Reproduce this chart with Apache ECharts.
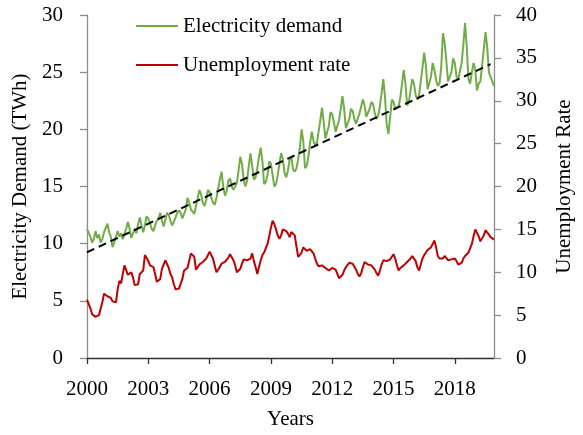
<!DOCTYPE html>
<html>
<head>
<meta charset="utf-8">
<script src="https://cdn.jsdelivr.net/npm/echarts@6/dist/echarts.min.js"></script>
<style>
  html, body { margin: 0; padding: 0; background: #ffffff; }
  #chart { width: 583px; height: 435px; }
</style>
</head>
<body>
<div id="chart"></div>
<script>
// Monthly series, January 2000 to December 2019
const startYear = 2000;

// Electricity demand (TWh), one row per year
const demand = [
  11.3, 11.2, 10.6, 10.1, 10.4, 11.1, 10.5, 10.8, 10.1, 10.4, 11.0, 11.1,
  11.75, 11.0, 10.6, 9.7, 10.1, 10.6, 11.1, 10.6, 10.9, 10.4, 10.5, 11.3,
  11.9, 11.3, 10.5, 10.6, 11.3, 10.9, 11.7, 12.3, 11.6, 11.0, 11.6, 12.4,
  12.2, 11.8, 11.3, 11.1, 11.6, 12.0, 12.2, 12.7, 12.0, 11.5, 12.1, 12.7,
  12.5, 12.0, 11.6, 11.9, 12.3, 12.7, 12.9, 12.7, 12.2, 12.3, 13.0, 14.0,
  13.6, 13.0, 12.8, 12.6, 13.3, 14.0, 14.7, 14.3, 13.6, 13.3, 13.8, 14.7,
  14.5, 14.0, 13.6, 13.4, 14.0, 14.8, 15.6, 16.3, 15.0, 14.2, 14.6, 15.5,
  15.7, 15.0, 14.7, 14.6, 15.3, 16.4, 17.6, 17.0, 15.6, 15.0, 15.5, 16.8,
  17.9, 16.8, 15.6, 15.8, 16.6, 17.6, 18.4, 17.2, 15.2, 15.4, 16.0, 17.2,
  17.0, 16.0, 15.0, 15.2, 16.0, 17.0, 17.9, 17.4, 16.2, 15.8, 16.4, 17.4,
  17.6, 16.5, 16.3, 16.6, 17.4, 18.4, 20.0, 19.0, 16.6, 16.8, 17.6, 18.8,
  19.8, 19.0, 18.6, 18.8, 19.8, 20.8, 21.9, 20.6, 19.2, 19.3, 20.3, 21.5,
  21.3, 20.6, 19.8, 19.9, 20.8, 21.8, 22.9, 21.8, 20.1, 20.2, 20.9, 21.8,
  21.6, 20.9, 20.5, 20.6, 21.4, 22.0, 22.6, 22.1, 21.1, 21.2, 21.8, 22.4,
  22.2, 21.4, 20.9, 21.2, 22.0, 23.2, 24.4, 22.8, 20.4, 19.6, 21.0, 22.6,
  22.4, 21.8, 21.8, 22.0, 22.8, 24.0, 25.2, 24.0, 22.1, 22.4, 23.4, 24.4,
  24.0, 23.0, 22.6, 23.0, 24.2, 25.4, 26.7, 25.6, 23.5, 23.6, 24.6, 25.8,
  25.2, 24.3, 23.8, 24.0, 25.4, 28.4, 27.6, 26.0, 24.2, 24.2, 25.0, 26.2,
  25.8, 24.6, 24.4, 24.5, 25.8, 27.4, 29.3, 27.2, 24.4, 24.0, 25.0, 25.8,
  25.2, 23.4, 24.0, 24.2, 25.6, 27.0, 28.5, 27.2, 25.0, 24.6, 24.2, 23.8
];

// Unemployment rate (%), one row per year
const unemployment = [
  6.8, 6.6, 5.8, 5.1, 4.9, 4.8, 4.9, 5.0, 5.2, 6.5, 7.5, 7.3,
  7.2, 7.4, 7.0, 6.6, 6.5, 6.5, 8.0, 9.0, 8.7, 9.8, 10.8, 10.7,
  9.7, 9.8, 10.0, 9.4, 8.5, 8.6, 8.6, 9.8, 10.0, 10.2, 12.0, 11.8,
  11.3, 10.8, 10.6, 10.6, 9.8, 8.9, 9.0, 9.2, 10.4, 10.9, 11.4, 11.6,
  10.5, 9.8, 9.4, 8.6, 8.0, 8.0, 8.1, 8.3, 9.2, 10.2, 10.1, 10.5,
  11.3, 12.2, 12.0, 11.8, 10.3, 10.6, 10.9, 11.1, 11.2, 11.4, 11.6, 12.0,
  12.4, 12.2, 11.6, 10.8, 10.0, 10.3, 10.4, 11.0, 11.1, 11.2, 11.3, 11.7,
  12.1, 11.9, 11.4, 10.8, 10.0, 10.0, 10.4, 11.0, 11.5, 11.5, 11.4, 11.5,
  11.6, 12.2, 11.3, 10.6, 9.8, 10.6, 11.4, 12.0, 12.3, 12.8, 13.3, 14.2,
  15.2, 16.0, 15.6, 15.0, 14.3, 13.9, 14.3, 15.0, 14.9, 14.8, 14.5, 14.1,
  14.7, 14.6, 14.3, 13.0, 11.8, 12.0, 12.3, 12.9, 12.8, 12.5, 12.6, 12.7,
  12.8, 12.2, 11.6, 11.0, 10.7, 10.8, 10.8, 10.7, 10.5, 10.3, 10.2, 10.3,
  10.5, 10.7, 10.3, 9.8, 9.3, 9.3, 9.7, 10.2, 10.6, 10.8, 11.1, 11.3,
  11.0, 10.8, 10.3, 9.8, 9.5, 9.9, 10.6, 11.2, 11.0, 10.9, 10.8, 10.8,
  10.6, 10.3, 9.9, 9.6, 10.2, 10.9, 11.4, 11.3, 11.3, 11.3, 11.5, 11.8,
  12.1, 11.6, 10.8, 10.2, 10.5, 10.7, 10.8, 11.0, 11.2, 11.3, 11.6, 11.9,
  11.9, 11.3, 10.6, 10.2, 10.9, 11.6, 12.0, 12.3, 12.6, 12.8, 12.9, 13.3,
  13.7, 12.9, 11.9, 11.6, 11.5, 11.6, 11.9, 11.9, 11.4, 11.3, 11.5, 11.7,
  11.6, 11.3, 10.9, 10.8, 11.1, 11.6, 11.9, 12.1, 12.3, 12.5, 13.3, 14.2,
  15.0, 14.9, 14.2, 13.6, 13.8, 14.3, 14.9, 14.8, 14.4, 14.1, 13.9, 13.8
];

// Linear trend of demand: [year, TWh] at both ends
const trendYears = [2000, 2019.75];
const trendValues = [9.25, 25.7];

// Axis ticks
const yearTicks = [2000, 2003, 2006, 2009, 2012, 2015, 2018];
const leftTicks = [0, 5, 10, 15, 20, 25, 30];
const rightTicks = [0, 5, 10, 15, 20, 25, 30, 35, 40];

const toPairs = (vals) => vals.map((v, i) => [startYear + i / 12, v]);

const FONT = 'Liberation Serif';
const SIZE = 21;
const textBase = { fontFamily: FONT, fontSize: SIZE, color: '#000' };
const sideAxisColor = '#8c8c8c';

const chart = echarts.init(document.getElementById('chart'), null, { renderer: 'canvas' });

chart.setOption({
  backgroundColor: '#ffffff',
  animation: false,
  textStyle: { fontFamily: FONT },
  grid: { left: 87, right: 86, top: 15, bottom: 73, containLabel: false },
  legend: {
    orient: 'vertical',
    left: 131,
    top: 10,
    icon: 'rect',
    itemWidth: 42,
    itemHeight: 2,
    itemGap: 17,
    textStyle: Object.assign({}, textBase, { lineHeight: 22 }),
    data: ['Electricity demand', 'Unemployment rate']
  },
  xAxis: {
    type: 'value',
    min: 2000,
    max: startYear + (demand.length - 1) / 12,
    name: 'Years',
    nameLocation: 'middle',
    nameGap: 51,
    nameTextStyle: textBase,
    axisLine: { show: true, lineStyle: { color: '#333', width: 1.3 } },
    axisTick: { show: true, length: 6, lineStyle: { color: '#333', width: 1.3 }, customValues: yearTicks },
    axisLabel: Object.assign({}, textBase, { margin: 21, customValues: yearTicks, formatter: (v) => String(Math.round(v)) }),
    splitLine: { show: false }
  },
  yAxis: [
    {
      type: 'value',
      position: 'left',
      min: 0, max: 30, interval: 5,
      name: 'Electricity Demand (TWh)',
      nameLocation: 'middle',
      nameGap: 51,
      nameRotate: 90,
      nameTextStyle: textBase,
      axisLine: { show: true, lineStyle: { color: sideAxisColor, width: 1.3 } },
      axisTick: { show: true, length: 7, lineStyle: { color: sideAxisColor, width: 1.3 }, customValues: leftTicks },
      axisLabel: Object.assign({}, textBase, { margin: 24, customValues: leftTicks }),
      splitLine: { show: false }
    },
    {
      type: 'value',
      position: 'right',
      min: 0, max: 40, interval: 5,
      name: 'Unemployment Rate',
      nameLocation: 'middle',
      nameGap: 60,
      nameRotate: 90,
      nameTextStyle: textBase,
      axisLine: { show: true, lineStyle: { color: sideAxisColor, width: 1.3 } },
      axisTick: { show: true, length: 7, lineStyle: { color: sideAxisColor, width: 1.3 }, customValues: rightTicks },
      axisLabel: Object.assign({}, textBase, { margin: 22, customValues: rightTicks }),
      splitLine: { show: false }
    }
  ],
  series: [
    {
      name: 'Electricity demand',
      type: 'line',
      yAxisIndex: 0,
      data: toPairs(demand),
      symbol: 'none',
      lineStyle: { color: '#70ad47', width: 2 },
      itemStyle: { color: '#70ad47' },
      z: 2
    },
    {
      name: 'Unemployment rate',
      type: 'line',
      yAxisIndex: 1,
      data: toPairs(unemployment),
      symbol: 'none',
      lineStyle: { color: '#c00000', width: 2 },
      itemStyle: { color: '#c00000' },
      z: 2
    },
    {
      name: 'Trend',
      type: 'line',
      yAxisIndex: 0,
      data: trendYears.map((y, i) => [y, trendValues[i]]),
      symbol: 'none',
      lineStyle: { color: '#000', width: 2, type: [8, 5] },
      z: 3
    }
  ]
});
</script>
</body>
</html>
